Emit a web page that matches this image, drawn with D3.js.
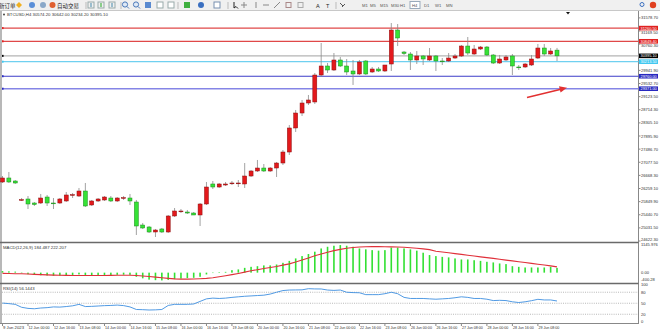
<!DOCTYPE html>
<html>
<head>
<meta charset="utf-8">
<script src="https://cdn.jsdelivr.net/npm/d3@7"></script>
<style>
  body { margin: 0; background: #fff; }
  svg { display: block; font-family: "Liberation Sans", Arial, sans-serif; }
</style>
</head>
<body>
<svg width="660" height="332"></svg>
<script>
// BTCUSD H4 candles, 9 Jun 08:00 .. 29 Jun 20:00
const opens = [26462,26587,26493,25901,25932,25807,25807,25994,25807,25807,25870,26057,26025,26181,25745,25870,25901,25963,25870,25963,
  25963,25838,25121,25059,24903,24997,24903,25402,25542,25526,25495,25433,25776,26400,26306,26368,26424,26421,26400,26649,
  26805,26898,26805,26898,27054,27397,28146,28613,28925,28957,29798,30079,29954,30266,30079,29923,29830,30235,29892,29985,
  29923,30141,31201,30515,30453,30266,30391,30266,30391,30235,30235,30328,30391,30702,30453,30609,30671,30422,30172,30266,
  30391,30048,30048,30110,30328,30640,30453,30574.2];
const highs = [26649,26774,26524,25963,26025,25838,26088,26057,25963,25963,26150,26119,26275,26431,25901,25963,26025,26025,25994,26025,
  26088,25901,25184,25090,24997,25028,25433,25651,25620,25589,25526,25807,26462,26493,26431,26462,26493,26524,27054,26836,
  27148,27023,26930,27086,27460,28239,28707,29019,29175,29861,30796,30172,30484,30360,30297,30266,30266,30266,30048,30048,
  30110,31419,31388,30547,30515,30547,30422,30640,30422,30328,30484,30453,30734,30983,30734,30702,30702,30453,30422,30422,
  30453,30110,30172,30422,30765,30765,30640,30642.0];
const lows = [26431,26431,26400,25870,25620,25714,25776,25714,25620,25776,25838,25963,25994,25682,25714,25838,25870,25838,25838,25901,
  25745,24809,24997,24872,24747,24872,24872,25371,25495,25464,25433,25090,25745,26244,26275,26337,26368,26306,26275,26618,
  26774,26774,26774,26618,26992,27304,28021,28520,28863,28894,29736,29861,29923,30048,29798,29487,29798,29798,29861,29892,
  29892,29923,30702,30422,29954,30141,30110,30235,29923,30110,30204,30297,30360,30422,30422,30578,30391,30141,30141,30235,
  29798,29954,30017,30079,30297,30391,30422,30234.2];
const closes = [26587,26462,26431,25913,25776,25760,25963,25807,25791,25932,26057,26069,26181,25714,25870,25932,25994,25870,25963,25975,
  25870,25090,25028,24903,24965,24903,25402,25558,25558,25495,25433,25776,26306,26306,26400,26400,26431,26431,26649,26805,
  26898,26805,26898,27054,27397,28146,28613,28925,29019,29798,30079,29954,30266,30079,29892,29830,30204,29830,29985,29923,
  30110,31201,30952,30469,30266,30391,30297,30391,30235,30225,30328,30391,30702,30484,30609,30671,30422,30172,30297,30360,
  30079,30038,30141,30297,30640,30453,30547,30395.1];

// MACD(12,26,9): main (histogram) and signal
const macdMain = [60,50,40,-20,-60,-90,-100,-110,-120,-115,-100,-90,-70,-90,-95,-95,-90,-90,-85,-80,
  -85,-160,-220,-270,-290,-300,-280,-250,-230,-210,-200,-160,-70,0,20,30,95,125,185,225,
  250,280,280,315,380,455,550,640,720,810,935,1000,1040,1065,1040,1000,935,900,870,850,
  870,970,970,935,900,850,770,680,640,610,590,550,510,510,480,455,420,395,355,330,
  250,225,200,200,200,200,225,184.487];
const macdSignal = [-30,-35,-40,-45,-55,-65,-75,-85,-95,-100,-105,-108,-110,-110,-110,-110,-108,-105,-100,-98,
  -98,-110,-130,-150,-175,-200,-220,-240,-250,-250,-245,-235,-220,-195,-160,-120,-75,-30,20,70,
  115,160,200,240,290,340,410,490,570,650,720,790,850,900,940,970,990,1000,1005,1005,
  1000,995,990,980,965,945,920,890,830,800,770,735,705,675,645,610,580,550,515,485,
  455,420,390,360,325,295,260,222.207];

// RSI(14)
const rsiValues = [50.5,49,47,39,36,35,37,38,40,39.5,41,43,47,41,41.5,42.5,43.5,44,45,43.6,
  40,33,32.5,31.6,32,33,44,47,47,47,48,55,62,64,63,64,66,67.5,69,70,
  71,72,75,80,84.6,86,86.3,86.5,89.7,89,88.9,86,85,86,80,79,78.6,73.5,73.5,73.5,
  76,80,76,66,63,63,63,62,61,62,63,65,67.5,66,63,63,61,57.3,58,57.3,
  54,52,54,57,60.7,59,59,56.1443];

const timeLabels = ["9 Jun 2023","12 Jun 00:00","12 Jun 16:00","13 Jun 08:00","14 Jun 00:00","14 Jun 16:00",
  "15 Jun 08:00","16 Jun 00:00","16 Jun 16:00","19 Jun 08:00","20 Jun 00:00","20 Jun 16:00","21 Jun 08:00",
  "22 Jun 00:00","22 Jun 16:00","23 Jun 08:00","26 Jun 00:00","26 Jun 16:00","27 Jun 08:00","28 Jun 00:00",
  "28 Jun 16:00","29 Jun 08:00"];
const priceTicks = [24622.30,25031.50,25440.70,25849.90,26259.10,26668.30,27077.50,27486.70,27895.90,28305.10,
  28714.30,29123.50,29532.70,29941.90,30351.10,30760.30,31169.50,31578.70];

// horizontal lines drawn on the chart
const levelValues = [31260.50, 30849.40, 30395.10, 30213.50, 29760.00, 29371.00];
const levelColors = ["#e04848", "#e04848", "#b4b4b4", "#6fd0f0", "#3c3cc8", "#8585e6"];
const levelBoxes  = ["#e02020", "#e02020", "#000000", "#40c8f0", "#2828c0", "#2828c0"];

const periods = ["M1","M5","M15","M30","H1","H4","D1","W1","MN"];

const svg = d3.select("svg");
const W = 660, axisX = 638.5;

const x = d3.scaleLinear().domain([0, 87]).range([2.5, 557]);
const yP = d3.scaleLinear().domain([24622.3, 31578.7]).range([241, 17.9]);
const yM = d3.scaleLinear().domain([-400.28, 1145.976]).range([283, 243]);
const yR = d3.scaleLinear().domain([0, 100]).range([321.6, 284.9]);

// ---------- toolbar ----------
svg.append("rect").attr("x", 0).attr("y", 0).attr("width", W).attr("height", 11).attr("fill", "#f0f0f0");
svg.append("line").attr("x1", 0).attr("x2", W).attr("y1", 10.5).attr("y2", 10.5).attr("stroke", "#c8c8c8");
const tb = svg.append("g").attr("font-size", 5.5).attr("fill", "#222");
tb.append("text").attr("x", -1).attr("y", 7.5).attr("font-family", "Noto Sans CJK SC").text("新订单");
tb.append("path").attr("d", "M19,2 L22,5 L19,8 L16,5Z").attr("fill", "#f0b020");
tb.append("circle").attr("cx", 32).attr("cy", 5).attr("r", 3).attr("fill", "#5b8fd8");
tb.append("circle").attr("cx", 43).attr("cy", 5).attr("r", 3).attr("fill", "#8aa8c8");
tb.append("circle").attr("cx", 52.5).attr("cy", 5).attr("r", 3).attr("fill", "#e06030");
tb.append("text").attr("x", 57).attr("y", 7.5).attr("font-family", "Noto Sans CJK SC").text("自动交易");
[86, 121, 178, 228, 336].forEach(s => tb.append("line").attr("x1", s).attr("x2", s).attr("y1", 2).attr("y2", 9).attr("stroke", "#bbb"));
[91, 101, 112].forEach((s, i) => {
  tb.append("rect").attr("x", s - 3).attr("y", 2).attr("width", 6).attr("height", 6).attr("fill", "none").attr("stroke", "#9aa");
  tb.append("line").attr("x1", s).attr("x2", s).attr("y1", 3).attr("y2", 7).attr("stroke", i == 1 ? "#2a2" : "#48a");
});
[125, 136].forEach(s => {
  tb.append("circle").attr("cx", s).attr("cy", 4.5).attr("r", 2.6).attr("fill", "#dde8f6").attr("stroke", "#4a78b8");
  tb.append("line").attr("x1", s + 2).attr("x2", s + 4).attr("y1", 6.5).attr("y2", 8.5).attr("stroke", "#4a78b8");
});
tb.append("rect").attr("x", 145).attr("y", 2).attr("width", 6).attr("height", 6).attr("fill", "#5a8ad0");
[160, 171].forEach(s => tb.append("rect").attr("x", s - 3).attr("y", 2).attr("width", 6).attr("height", 6).attr("fill", "#fff").attr("stroke", "#9aa"));
tb.append("rect").attr("x", 184).attr("y", 2).attr("width", 6).attr("height", 6).attr("fill", "#40b040");
tb.append("circle").attr("cx", 201).attr("cy", 5).attr("r", 3).attr("fill", "#3a6fc0");
tb.append("rect").attr("x", 214).attr("y", 2).attr("width", 6).attr("height", 6).attr("fill", "#fff").attr("stroke", "#7890b0");
tb.append("path").attr("d", "M234,2 L234,8 L236,6.5 L238,8.5").attr("fill", "none").attr("stroke", "#222");
tb.append("path").attr("d", "M244,2 V8 M241,5 H247").attr("stroke", "#888");
tb.append("path").attr("d", "M256,2 V8").attr("stroke", "#888");
tb.append("path").attr("d", "M263,5 H269").attr("stroke", "#888");
tb.append("path").attr("d", "M274,8 L280,2").attr("stroke", "#888");
tb.append("rect").attr("x", 286).attr("y", 2.5).attr("width", 5).attr("height", 5).attr("fill", "none").attr("stroke", "#a88");
tb.append("rect").attr("x", 298).attr("y", 2.5).attr("width", 5).attr("height", 5).attr("fill", "none").attr("stroke", "#aaa");
tb.append("text").attr("x", 316).attr("y", 7.5).text("A");
tb.append("text").attr("x", 326).attr("y", 7.5).text("T");
tb.append("path").attr("d", "M340,3 L343,6 M342,7 L345,4").attr("stroke", "#555");
const perX = [362, 370, 380, 391, 400, 412, 424, 435, 446];
periods.forEach((p, i) => {
  if (p === "H4") tb.append("rect").attr("x", perX[i] - 2).attr("y", 1.5).attr("width", 10).attr("height", 7).attr("fill", "#fff").attr("stroke", "#9ab");
  tb.append("text").attr("x", perX[i]).attr("y", 7).attr("font-size", 4.2).attr("fill", "#555").text(p);
});
tb.append("circle").attr("cx", 642).attr("cy", 4.5).attr("r", 2).attr("fill", "none").attr("stroke", "#3a6fc0");
tb.append("circle").attr("cx", 653).attr("cy", 5).attr("r", 3.2).attr("fill", "#e04020");

// ---------- frames ----------
svg.append("rect").attr("x", 0).attr("y", 11).attr("width", 2).attr("height", 312).attr("fill", "#b8b8b8");
svg.append("line").attr("x1", axisX).attr("x2", axisX).attr("y1", 11).attr("y2", 324).attr("stroke", "#888");
svg.append("line").attr("x1", 0).attr("x2", axisX).attr("y1", 323.5).attr("y2", 323.5).attr("stroke", "#888");
[242.5, 283.5].forEach(yy => svg.append("line").attr("x1", 0).attr("x2", axisX).attr("y1", yy).attr("y2", yy)
  .attr("stroke", "#6a6a6a").attr("stroke-width", 1.5));

svg.append("circle").attr("cx", 4).attr("cy", 14.5).attr("r", 0.9).attr("fill", "#333");
svg.append("text").attr("x", 7).attr("y", 16.2).attr("font-size", 4.3).attr("fill", "#333")
  .text("BTCUSD,H4  30574.20 30642.00 30234.20 30395.10");
svg.append("path").attr("d", "M566,12 L570,12 L568,14.5Z").attr("fill", "#111");

// ---------- price axis ----------
const pAxis = svg.append("g").attr("font-size", 4.1).attr("fill", "#333");
priceTicks.forEach((v, k) => {
  pAxis.append("line").attr("x1", axisX).attr("x2", axisX + 2).attr("y1", yP(v)).attr("y2", yP(v)).attr("stroke", "#888");
  let base = k == 0 ? yP(v) - 0.4 : yP(v) + 1.5;
  // a label clipped by a level box slips below it; one mostly covered stays hidden behind it
  levelValues.forEach(lv => {
    const ly = yP(lv), over = (ly + 2.3) - (base - 3);
    if (base > ly - 2.3 && over > 0) base = over < 1.5 ? ly + 2.3 + 3.1 : ly + 1.4;
  });
  pAxis.append("text").attr("x", 641).attr("y", base).text(v.toFixed(2));
});

// ---------- horizontal levels ----------
levelValues.forEach((v, i) => {
  const yy = yP(v);
  svg.append("line").attr("x1", 2).attr("x2", axisX).attr("y1", yy).attr("y2", yy)
    .attr("stroke", levelColors[i]).attr("stroke-width", i == 5 ? 1.6 : 1.2);
  svg.append("rect").attr("x", 2).attr("y", yy - 1).attr("width", 1.6).attr("height", 2).attr("fill", levelBoxes[i]);
  svg.append("rect").attr("x", 639).attr("y", yy - 2.3).attr("width", 19).attr("height", 4.6).attr("fill", levelBoxes[i]);
  svg.append("text").attr("x", 640.5).attr("y", yy + 1.4).attr("font-size", 3.9).attr("fill", "#fff").text(v.toFixed(2));
});

// ---------- candles ----------
const bars = d3.range(opens.length).map(i => ({ i, o: opens[i], h: highs[i], l: lows[i], c: closes[i] }));
const cg = svg.append("g");
cg.selectAll(".wick").data(bars).join("line")
  .attr("x1", d => x(d.i)).attr("x2", d => x(d.i))
  .attr("y1", d => yP(d.h)).attr("y2", d => yP(d.l))
  .attr("stroke", "#8a8a8a").attr("stroke-width", 0.8);
cg.selectAll(".body").data(bars).join("rect")
  .attr("x", d => x(d.i) - 2).attr("width", 4)
  .attr("y", d => yP(Math.max(d.o, d.c)))
  .attr("height", d => Math.max(Math.abs(yP(d.o) - yP(d.c)), 0.8))
  .attr("fill", d => d.c >= d.o ? "#e3191c" : "#36e236")
  .attr("stroke", d => d.c >= d.o ? "#8c1010" : "#1d8a1d").attr("stroke-width", 0.5);

// red arrow
svg.append("line").attr("x1", 527).attr("y1", 97.5).attr("x2", 561).attr("y2", 89.3)
  .attr("stroke", "#e23030").attr("stroke-width", 1.4);
svg.append("path").attr("d", "M567,87.8 L559,86.2 L560.6,92.6Z").attr("fill", "#e23030");

// ---------- MACD ----------
svg.append("text").attr("x", 3).attr("y", 248.5).attr("font-size", 4.3).attr("fill", "#333")
  .text("MACD(12,26,9) 184.487 222.207");
svg.selectAll(".hist").data(macdMain).join("rect")
  .attr("x", (d, i) => x(i) - 0.8).attr("width", 1.6)
  .attr("y", d => Math.min(yM(d), yM(0)))
  .attr("height", d => Math.max(Math.abs(yM(d) - yM(0)), 0.4))
  .attr("fill", "#33e033");
svg.append("path").datum(macdSignal)
  .attr("d", d3.line().x((d, i) => x(i)).y(d => yM(d)))
  .attr("fill", "none").attr("stroke", "#e0303a").attr("stroke-width", 1.1);
const mAxis = svg.append("g").attr("font-size", 4.1).attr("fill", "#333");
mAxis.append("text").attr("x", 641).attr("y", 246.3).text("1145.976");
mAxis.append("text").attr("x", 641).attr("y", 273.5).text("0.00");
mAxis.append("text").attr("x", 641).attr("y", 280.5).text("-400.28");

// ---------- RSI ----------
svg.append("text").attr("x", 3).attr("y", 289.5).attr("font-size", 4.3).attr("fill", "#333").text("RSI(14) 56.1443");
[80, 50, 20].forEach(v => svg.append("line").attr("x1", 2).attr("x2", axisX).attr("y1", yR(v)).attr("y2", yR(v))
  .attr("stroke", "#8a8a8a").attr("stroke-width", 0.6).attr("stroke-dasharray", "1,1.2"));
svg.append("path").datum(rsiValues)
  .attr("d", d3.line().x((d, i) => x(i)).y(d => yR(d)))
  .attr("fill", "none").attr("stroke", "#3d8fe0").attr("stroke-width", 0.9);
const rAxis = svg.append("g").attr("font-size", 4.1).attr("fill", "#333");
[100, 80, 50, 20, 0].forEach(v => rAxis.append("text").attr("x", 641).attr("y", yR(v) + 1.5).text(v));

// ---------- time axis ----------
const tAxis = svg.append("g").attr("font-size", 4.1).attr("fill", "#333");
timeLabels.forEach((t, k) => {
  const xx = x(k * 4);
  tAxis.append("line").attr("x1", xx).attr("x2", xx).attr("y1", 323.5).attr("y2", 326).attr("stroke", "#888");
  tAxis.append("text").attr("x", xx + 0.5).attr("y", 329)
    .attr("textLength", 21).attr("lengthAdjust", "spacingAndGlyphs").text(t);
});
</script>
</body>
</html>
